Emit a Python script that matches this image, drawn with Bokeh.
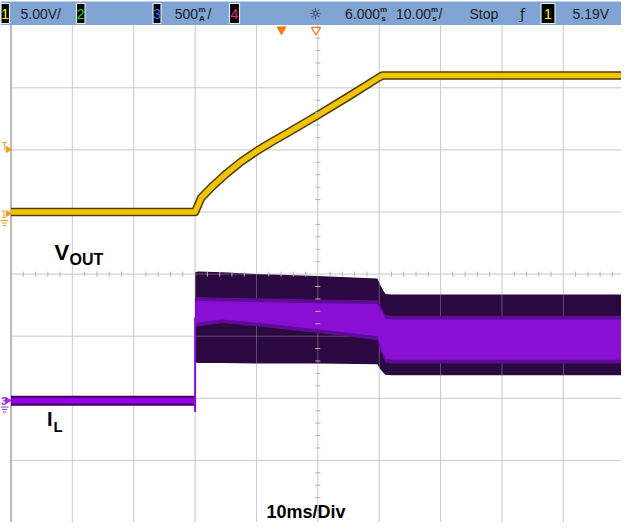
import numpy as np
from bokeh.plotting import figure
from bokeh.models import Range1d
from bokeh.embed import file_html
from bokeh.resources import INLINE
from bokeh.core.properties import value

# ---------------- data (oscilloscope divisions: x 0..10, y 0..8) ----------------
vout_x = [0.0, 3.0, 3.1, 3.3, 3.5, 3.75, 4.0, 4.25, 4.5, 5.0, 5.5, 6.0, 6.06, 10.0]
vout_y = [5.0, 5.0, 5.23, 5.43, 5.61, 5.81, 5.98, 6.13, 6.27, 6.56, 6.86, 7.17, 7.2, 7.2]

il_flat_x = [0.0, 3.0]
il_flat_y = [1.96, 1.96]
il_step_x = [3.0, 3.0]
il_step_y = [1.78, 3.3]

il_x = [3.0, 3.05, 3.45, 4.0, 5.0, 5.97, 6.03, 6.1, 6.2, 10.0]
il_env_top = [4.03, 4.04, 4.03, 4.0, 3.97, 3.93, 3.8, 3.68, 3.67, 3.67]
il_env_bot = [2.58, 2.57, 2.57, 2.56, 2.56, 2.55, 2.45, 2.38, 2.37, 2.37]
il_core_top = [3.57, 3.57, 3.56, 3.55, 3.53, 3.52, 3.42, 3.28, 3.27, 3.27]
il_core_bot = [3.19, 3.22, 3.27, 3.22, 3.11, 3.0, 2.8, 2.64, 2.62, 2.62]

grid_x = [1, 2, 3, 4, 5, 6, 7, 8, 9]
grid_y = [1, 2, 3, 4, 5, 6, 7]

# header bar
ch_digits = ["1", "2", "3", "4", "1"]
ch_colors = ["#ffff00", "#22dd22", "#3a6cff", "#ff2288", "#ffff00"]
hdr_left_text = ["5.00V/", "/", "/", "Stop", "5.19V"]
hdr_right_text = ["500", "6.000", "10.00"]
hdr_small_top = ["m", "m", "m"]
hdr_small_bot = ["A", "s", "s"]

# ---------------- page-pixel helpers for decorations ----------------
X0, DX = 18.5, 61.37
Y0, DY = 530.0, 62.1


def fx(px):
    return (px - X0) / DX


def fy(py):
    return (Y0 - py) / DY


FONT = value("Liberation Sans")
BAR = "#80a4d4"
GRID = "#cfcfcf"
ORANGE = "#f29a12"
PURPLE_M = "#a030e0"
TXT = "#1c1c1c"

p = figure(width=621, height=522, output_backend="svg", toolbar_location=None,
           x_range=Range1d(fx(8), fx(629)), y_range=Range1d(fy(530), fy(8)),
           x_axis_type=None, y_axis_type=None, min_border=0,
           outline_line_color=None, background_fill_color="white",
           border_fill_color="white")
p.grid.visible = False

# header bar
p.quad(left=[fx(8)], right=[fx(629)], top=[fy(9)], bottom=[fy(32.5)],
       fill_color=BAR, line_color=None)

# graticule
gtop = fy(32.5)
p.segment(x0=grid_x, y0=[0] * len(grid_x), x1=grid_x, y1=[gtop] * len(grid_x),
          line_color=GRID, line_width=1)
p.segment(x0=[0] * len(grid_y), y0=grid_y, x1=[10] * len(grid_y), y1=grid_y,
          line_color=GRID, line_width=1)
p.segment(x0=[0], y0=[0], x1=[0], y1=[gtop], line_color="#8c8c8c", line_width=1.2)

# IL switching envelope
p.varea(x=il_x, y1=il_env_bot, y2=il_env_top, fill_color="#2b0840")
# grid showing through the dark envelope
p.segment(x0=grid_x, y0=[0] * len(grid_x), x1=grid_x, y1=[gtop] * len(grid_x),
          line_color=GRID, line_alpha=0.35, line_width=1)
p.segment(x0=[0] * len(grid_y), y0=grid_y, x1=[10] * len(grid_y), y1=grid_y,
          line_color=GRID, line_alpha=0.35, line_width=1)
mid_top = np.array(il_core_top) + 0.06
mid_bot = np.array(il_core_bot) - 0.06
p.varea(x=il_x, y1=mid_bot, y2=mid_top, fill_color="#5e0c96")
p.varea(x=il_x, y1=il_core_bot, y2=il_core_top, fill_color="#8a0fd4")

# IL flat part and step
p.line(il_flat_x, il_flat_y, line_color="#3c0060", line_width=10)
p.line(il_flat_x, il_flat_y, line_color="#9400e0", line_width=6)
p.line(il_step_x, il_step_y, line_color="#8a0fd4", line_width=2)

# VOUT
p.line(vout_x, vout_y, line_color="#4f3f00", line_width=8.5, line_join="round")
p.line(vout_x, vout_y, line_color="#f5c400", line_width=5.5, line_join="round")

# centre-line minor ticks
tk = np.arange(0.2, 10.0, 0.2)
tk = tk[np.abs(tk - np.round(tk)) > 0.05]
p.scatter(x=tk, y=[4] * len(tk), marker="dash", size=5, angle=np.pi / 2,
          line_color="#b4b4b4", line_width=1)
tv = np.arange(0.2, 8.0, 0.2)
tv = tv[np.abs(tv - np.round(tv)) > 0.05]
p.scatter(x=[5] * len(tv), y=tv, marker="dash", size=5,
          line_color="#b4b4b4", line_width=1)

# header channel boxes
box_l = [8.5, 84, 160.5, 237, 548.5]
box_r = [17, 92.5, 168.5, 247, 562.5]
p.quad(left=[fx(v) for v in box_l], right=[fx(v) for v in box_r],
       top=[fy(11)] * 5, bottom=[fy(31)] * 5, fill_color="black",
       line_color="#e8e8e8", line_width=1.2)
p.text(x=[(fx(a) + fx(b)) / 2 for a, b in zip(box_l, box_r)], y=[fy(21.5)] * 5,
       text=ch_digits, text_color=ch_colors, text_font=FONT,
       text_font_size=value("14px"), text_align="center", text_baseline="middle")

left_px = [28, 215, 446, 477, 580]
p.text(x=[fx(v) for v in left_px], y=[fy(21.5)] * len(left_px), text=hdr_left_text,
       text_color=TXT, text_font=FONT, text_font_size=value("14px"),
       text_align="left", text_baseline="middle")
right_px = [205.5, 387.5, 438.5]
p.text(x=[fx(v) for v in right_px], y=[fy(21.5)] * 3, text=hdr_right_text,
       text_color=TXT, text_font=FONT, text_font_size=value("14px"),
       text_align="right", text_baseline="middle")
small_px = [209.5, 391, 442]
p.text(x=[fx(v) for v in small_px], y=[fy(16.5)] * 3, text=hdr_small_top,
       text_color=TXT, text_font=FONT, text_font_size=value("8px"),
       text_font_style="bold", text_align="center", text_baseline="middle")
p.text(x=[fx(v) for v in small_px], y=[fy(25.5)] * 3, text=hdr_small_bot,
       text_color=TXT, text_font=FONT, text_font_size=value("8px"),
       text_font_style="bold", text_align="center", text_baseline="middle")
p.text(x=[fx(323)], y=[fy(21.5)], text=["☼"], text_color=TXT,
       text_font=value("DejaVu Sans"), text_font_size=value("15px"),
       text_align="center", text_baseline="middle")
p.text(x=[fx(530)], y=[fy(21.5)], text=["ƒ"], text_color=TXT,
       text_font=value("DejaVu Sans"), text_font_size=value("14px"),
       text_align="center", text_baseline="middle")

# top markers (trigger position / delay)
p.scatter(x=[fx(289)], y=[fy(37)], marker="inverted_triangle", size=9,
          fill_color="#f07d10", line_color="#f07d10")
p.scatter(x=[fx(323.5)], y=[fy(37.5)], marker="inverted_triangle", size=9,
          fill_alpha=0, line_color="#f07d10", line_width=1.2)

# left-side markers
p.text(x=[fx(9)], y=[fy(154)], text=["T"], text_color=ORANGE, text_font=FONT,
       text_font_size=value("10px"), text_align="left", text_baseline="middle")
p.scatter(x=[fx(15.5)], y=[fy(157)], marker="triangle", angle=-np.pi / 2,
          size=6, fill_color=ORANGE, line_color=ORANGE)
p.text(x=[fx(8.5)], y=[fy(221)], text=["1"], text_color=ORANGE, text_font=FONT,
       text_font_size=value("10px"), text_align="left", text_baseline="middle")
p.scatter(x=[fx(15.5)], y=[fy(221)], marker="triangle", angle=-np.pi / 2,
          size=6, fill_color=ORANGE, line_color=ORANGE)
p.scatter(x=[fx(12)] * 3, y=[fy(228), fy(230.5), fy(233)], marker="dash",
          size=[8, 5, 3], line_color=ORANGE, line_width=1)
p.text(x=[fx(8.5)], y=[fy(408)], text=["3"], text_color=PURPLE_M, text_font=FONT,
       text_font_size=value("11px"), text_font_style="bold", text_align="left",
       text_baseline="middle")
p.scatter(x=[fx(15)], y=[fy(408)], marker="triangle", angle=-np.pi / 2,
          size=6, fill_color=PURPLE_M, line_color=PURPLE_M)
p.scatter(x=[fx(12)] * 3, y=[fy(414.5), fy(417), fy(419.5)], marker="dash",
          size=[8, 5, 3], line_color=PURPLE_M, line_width=1)

# trace labels (y = centre of capital letters, page pixels)
p.text(x=[fx(62)], y=[fy(259.5)], text=["V"], text_color="black", text_font=FONT,
       text_font_size=value("22px"), text_font_style="bold",
       text_baseline="middle")
p.text(x=[fx(77)], y=[fy(266.5)], text=["OUT"], text_color="black", text_font=FONT,
       text_font_size=value("16px"), text_font_style="bold",
       text_baseline="middle")
p.text(x=[fx(54.5)], y=[fy(426.5)], text=["I"], text_color="black", text_font=FONT,
       text_font_size=value("20px"), text_font_style="bold",
       text_baseline="middle")
p.text(x=[fx(61)], y=[fy(433.5)], text=["L"], text_color="black", text_font=FONT,
       text_font_size=value("15px"), text_font_style="bold",
       text_baseline="middle")
p.text(x=[fx(274)], y=[fy(519.5)], text=["10ms/Div"], text_color="black",
       text_font=FONT, text_font_size=value("18px"), text_font_style="bold",
       text_baseline="middle")

open("out.html", "w").write(file_html(p, INLINE))
